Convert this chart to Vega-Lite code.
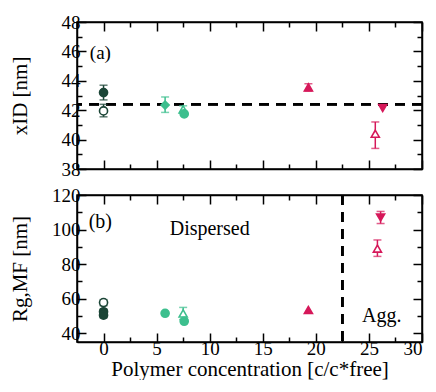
{
  "$schema": "https://vega.github.io/schema/vega-lite/v6.json",
  "padding": {"left": 8, "top": 12, "right": 0, "bottom": 0},
  "config": {
    "font": "Liberation Serif",
    "view": {"stroke": "black", "strokeWidth": 1.5},
    "text": {"font": "Liberation Serif", "fontWeight": "normal"},
    "axis": {
      "grid": false, "domainColor": "black", "domainWidth": 1.5, "tickColor": "black", "tickWidth": 1.5,
      "labelFont": "Liberation Serif", "titleFont": "Liberation Serif", "labelFontSize": 19, "titleFontSize": 21,
      "labelColor": "black", "titleColor": "black", "titleFontWeight": "normal", "labelFontWeight": "normal", "labelPadding": 6
    }
  },
  "datasets": {
    "top": [
      {"x": 0, "y": 43.2, "lo": 42.7, "hi": 43.7, "c": "#1b4536", "f": "#1b4536", "s": "circle"},
      {"x": 0, "y": 41.95, "lo": 41.55, "hi": 42.4, "c": "#1b4536", "f": "white", "s": "circle"},
      {"x": 5.8, "y": 42.35, "lo": 41.85, "hi": 42.9, "c": "#3dbf8e", "f": "#3dbf8e", "s": "diamond"},
      {"x": 7.5, "y": 42.05, "lo": 41.8, "hi": 42.3, "c": "#3dbf8e", "f": "white", "s": "triangle-up"},
      {"x": 7.6, "y": 41.75, "lo": null, "hi": null, "c": "#3dbf8e", "f": "#3dbf8e", "s": "circle"},
      {"x": 19.3, "y": 43.55, "lo": 43.3, "hi": 43.8, "c": "#d6185a", "f": "#d6185a", "s": "triangle-up"},
      {"x": 26.3, "y": 42.15, "lo": null, "hi": null, "c": "#d6185a", "f": "#d6185a", "s": "triangle-down"},
      {"x": 25.6, "y": 40.4, "lo": 39.4, "hi": 41.2, "c": "#d6185a", "f": "white", "s": "triangle-up"}
    ],
    "bottom": [
      {"x": 0, "y": 57.8, "lo": 56, "hi": 59.5, "c": "#1b4536", "f": "white", "s": "circle"},
      {"x": 0, "y": 52.5, "lo": null, "hi": null, "c": "#1b4536", "f": "#1b4536", "s": "circle"},
      {"x": 0, "y": 50.5, "lo": 49, "hi": 54, "c": "#1b4536", "f": "#1b4536", "s": "circle"},
      {"x": 5.8, "y": 51.6, "lo": null, "hi": null, "c": "#3dbf8e", "f": "#3dbf8e", "s": "circle"},
      {"x": 7.5, "y": 51.5, "lo": 48, "hi": 55, "c": "#3dbf8e", "f": "white", "s": "triangle-up"},
      {"x": 7.6, "y": 47, "lo": null, "hi": null, "c": "#3dbf8e", "f": "#3dbf8e", "s": "circle"},
      {"x": 19.3, "y": 53.5, "lo": null, "hi": null, "c": "#d6185a", "f": "#d6185a", "s": "triangle-up"},
      {"x": 26.1, "y": 107, "lo": 103.5, "hi": 110.5, "c": "#d6185a", "f": "#d6185a", "s": "triangle-down"},
      {"x": 25.8, "y": 89, "lo": 84.5, "hi": 94, "c": "#d6185a", "f": "white", "s": "triangle-up"}
    ],
    "labelsTop": [
      {"x": -0.3, "y": 45.9, "t": "(a)"}
    ],
    "labelsBottom": [
      {"x": -0.3, "y": 104.5, "t": "(b)"},
      {"x": 10, "y": 100.5, "t": "Dispersed"},
      {"x": 26.2, "y": 50, "t": "Agg."}
    ]
  },
  "spacing": 5,
  "vconcat": [
    {
      "width": 345, "height": 147,
      "data": {"name": "top"},
      "resolve": {"axis": {"x": "independent", "y": "independent"}},
      "layer": [
        {
          "mark": {"type": "point", "opacity": 0},
          "encoding": {
            "x": {"field": "x", "type": "quantitative", "scale": {"domain": [-2.5, 30], "nice": false, "zero": false},
              "axis": {"values": [-2.5, 0, 2.5, 5, 7.5, 10, 12.5, 15, 17.5, 20, 22.5, 25, 27.5, 30], "labels": false, "title": null,
                "tickSize": {"condition": {"test": "datum.value % 5 == 0", "value": -9}, "value": -5}}},
            "y": {"field": "y", "type": "quantitative", "scale": {"domain": [38, 48], "nice": false, "zero": false},
              "axis": {"values": [38, 39, 40, 41, 42, 43, 44, 45, 46, 47, 48], "labelExpr": "datum.value % 2 == 0 ? datum.label : ''",
                "title": "xID [nm]", "titleX": -47,
                "tickSize": {"condition": {"test": "datum.value % 2 == 0", "value": -9}, "value": -5}}}
          }
        },
        {
          "mark": {"type": "point", "opacity": 0},
          "encoding": {
            "x": {"field": "x", "type": "quantitative",
              "axis": {"orient": "top", "values": [-2.5, 0, 2.5, 5, 7.5, 10, 12.5, 15, 17.5, 20, 22.5, 25, 27.5, 30], "labels": false, "title": null,
                "tickSize": {"condition": {"test": "datum.value % 5 == 0", "value": -9}, "value": -5}}},
            "y": {"field": "y", "type": "quantitative",
              "axis": {"orient": "right", "values": [38, 39, 40, 41, 42, 43, 44, 45, 46, 47, 48], "labels": false, "title": null,
                "tickSize": {"condition": {"test": "datum.value % 2 == 0", "value": -9}, "value": -5}}}
          }
        },
        {
          "mark": {"type": "rule", "strokeDash": [10, 7], "strokeWidth": 1.8, "color": "black"},
          "encoding": {"y": {"datum": 42.4, "type": "quantitative", "axis": null}}
        },
        {
          "transform": [{"filter": "datum.lo != null"}],
          "mark": {"type": "rule", "strokeWidth": 1.5},
          "encoding": {
            "x": {"field": "x", "type": "quantitative", "axis": null},
            "y": {"field": "lo", "type": "quantitative", "axis": null},
            "y2": {"field": "hi"},
            "color": {"field": "c", "type": "nominal", "scale": null}
          }
        },
        {
          "transform": [{"filter": "datum.lo != null"}, {"fold": ["lo", "hi"], "as": ["k", "v"]}],
          "mark": {"type": "tick", "orient": "horizontal", "size": 8, "thickness": 1.5},
          "encoding": {
            "x": {"field": "x", "type": "quantitative", "axis": null},
            "y": {"field": "v", "type": "quantitative", "axis": null},
            "color": {"field": "c", "type": "nominal", "scale": null}
          }
        },
        {
          "mark": {"type": "point", "size": 65, "strokeWidth": 1.6, "fillOpacity": 1, "opacity": 1},
          "encoding": {
            "x": {"field": "x", "type": "quantitative", "axis": null},
            "y": {"field": "y", "type": "quantitative", "axis": null},
            "stroke": {"field": "c", "type": "nominal", "scale": null},
            "fill": {"field": "f", "type": "nominal", "scale": null},
            "shape": {"field": "s", "type": "nominal", "scale": null}
          }
        },
        {
          "data": {"name": "labelsTop"},
          "mark": {"type": "text", "fontSize": 19, "font": "Liberation Serif", "fontWeight": "normal", "color": "black"},
          "encoding": {
            "x": {"field": "x", "type": "quantitative", "axis": null},
            "y": {"field": "y", "type": "quantitative", "axis": null},
            "text": {"field": "t"}
          }
        }
      ]
    },
    {
      "width": 345, "height": 147,
      "data": {"name": "bottom"},
      "resolve": {"axis": {"x": "independent", "y": "independent"}},
      "layer": [
        {
          "mark": {"type": "point", "opacity": 0},
          "encoding": {
            "x": {"field": "x", "type": "quantitative", "scale": {"domain": [-2.5, 30], "nice": false, "zero": false},
              "axis": {"values": [-2.5, 0, 2.5, 5, 7.5, 10, 12.5, 15, 17.5, 20, 22.5, 25, 27.5, 30], "labelExpr": "datum.value % 5 == 0 ? datum.label : ''",
                "title": "Polymer concentration [c/c*free]", "titlePadding": 0,
                "tickSize": {"condition": {"test": "datum.value % 5 == 0", "value": -9}, "value": -5}}},
            "y": {"field": "y", "type": "quantitative", "scale": {"domain": [35, 120], "nice": false, "zero": false},
              "axis": {"values": [40, 50, 60, 70, 80, 90, 100, 110, 120], "labelExpr": "datum.value % 20 == 0 ? datum.label : ''",
                "title": "Rg,MF [nm]", "titleX": -47,
                "tickSize": {"condition": {"test": "datum.value % 20 == 0", "value": -9}, "value": -5}}}
          }
        },
        {
          "mark": {"type": "point", "opacity": 0},
          "encoding": {
            "x": {"field": "x", "type": "quantitative",
              "axis": {"orient": "top", "values": [-2.5, 0, 2.5, 5, 7.5, 10, 12.5, 15, 17.5, 20, 22.5, 25, 27.5, 30], "labels": false, "title": null,
                "tickSize": {"condition": {"test": "datum.value % 5 == 0", "value": -9}, "value": -5}}},
            "y": {"field": "y", "type": "quantitative",
              "axis": {"orient": "right", "values": [40, 50, 60, 70, 80, 90, 100, 110, 120], "labels": false, "title": null,
                "tickSize": {"condition": {"test": "datum.value % 20 == 0", "value": -9}, "value": -5}}}
          }
        },
        {
          "mark": {"type": "rule", "strokeDash": [10, 7], "strokeWidth": 1.8, "color": "black"},
          "encoding": {"x": {"datum": 22.5, "type": "quantitative", "axis": null}}
        },
        {
          "transform": [{"filter": "datum.lo != null"}],
          "mark": {"type": "rule", "strokeWidth": 1.5},
          "encoding": {
            "x": {"field": "x", "type": "quantitative", "axis": null},
            "y": {"field": "lo", "type": "quantitative", "axis": null},
            "y2": {"field": "hi"},
            "color": {"field": "c", "type": "nominal", "scale": null}
          }
        },
        {
          "transform": [{"filter": "datum.lo != null"}, {"fold": ["lo", "hi"], "as": ["k", "v"]}],
          "mark": {"type": "tick", "orient": "horizontal", "size": 8, "thickness": 1.5},
          "encoding": {
            "x": {"field": "x", "type": "quantitative", "axis": null},
            "y": {"field": "v", "type": "quantitative", "axis": null},
            "color": {"field": "c", "type": "nominal", "scale": null}
          }
        },
        {
          "mark": {"type": "point", "size": 65, "strokeWidth": 1.6, "fillOpacity": 1, "opacity": 1},
          "encoding": {
            "x": {"field": "x", "type": "quantitative", "axis": null},
            "y": {"field": "y", "type": "quantitative", "axis": null},
            "stroke": {"field": "c", "type": "nominal", "scale": null},
            "fill": {"field": "f", "type": "nominal", "scale": null},
            "shape": {"field": "s", "type": "nominal", "scale": null}
          }
        },
        {
          "data": {"name": "labelsBottom"},
          "mark": {"type": "text", "fontSize": 20, "font": "Liberation Serif", "fontWeight": "normal", "color": "black"},
          "encoding": {
            "x": {"field": "x", "type": "quantitative", "axis": null},
            "y": {"field": "y", "type": "quantitative", "axis": null},
            "text": {"field": "t"}
          }
        }
      ]
    }
  ]
}
